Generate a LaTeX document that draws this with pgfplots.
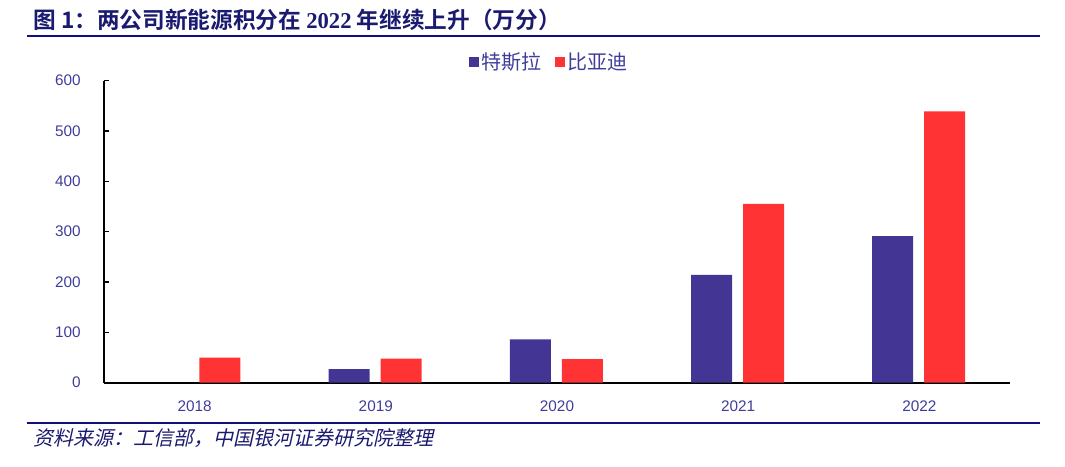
\documentclass[border=0pt]{standalone}
\usepackage{fontspec}
\setmainfont{Liberation Sans}
\newfontfamily\cjk{Noto Sans CJK SC}
\newfontfamily\cjkb{Noto Sans CJK SC Bold}
\newfontfamily\cjkit[FakeSlant=0.22]{Noto Sans CJK SC}
\newfontfamily\serifb{Liberation Serif}
\usepackage{pgfplots}
\pgfplotsset{compat=1.18}
\definecolor{tesla}{HTML}{433594}
\definecolor{byd}{HTML}{FF3333}
\definecolor{navy}{HTML}{1A1A70}
\definecolor{tickc}{HTML}{3F3D99}
\definecolor{linec}{HTML}{10107A}
\begin{document}
\begin{tikzpicture}[x=0.75pt,y=-0.75pt]
\path[use as bounding box] (0,0) rectangle (1065,467);
% title
\node[anchor=west,inner sep=0,text=navy,font=\cjkb\fontsize{17}{17}\selectfont] at (33,20) {图 1：两公司新能源积分在 {\serifb\bfseries 2022} 年继续上升（万分）};
\draw[linec,line width=1.1pt] (27,36) -- (1040,36);
\draw[linec,line width=1.1pt] (27,423) -- (1040,423);
\node[anchor=west,inner sep=0,text=navy,font=\cjkit\fontsize{15}{15}\selectfont] at (33,438) {资料来源：工信部，中国银河证券研究院整理};
\begin{axis}[
  at={(78pt,-287pt)}, anchor=south west,
  scale only axis, width=679.5pt, height=226.5pt,
  xmin=-0.5, xmax=4.5, ymin=0, ymax=600,
  axis x line*=bottom, axis y line*=left,
  axis line style={black, line width=1.5pt},
  /pgf/number format/assume math mode=true,
  xtick={0,1,2,3,4},
  xticklabels={2018,2019,2020,2021,2022},
  x tick style={draw=none},
  extra x ticks={0.5,1.5,2.5,3.5,4.5},
  extra x tick labels={},
  extra x tick style={major tick length=4pt, tick style={draw=black,line width=1.2pt}, tick align=inside},
  ytick={0,100,...,600},
  y tick style={black, line width=1.2pt},
  major tick length=4pt, tick align=inside,
  tick label style={font=\fontsize{11.5}{11.5}\selectfont, text=tickc},
  yticklabel style={xshift=-14pt},
  xticklabel style={yshift=-6pt},
  ybar, bar width=30.75pt,
  legend style={at={(0.492,1.062)}, anchor=center, draw=none, fill=none,
    legend columns=2, font=\cjk\fontsize{15}{15}\selectfont, text=tickc,
    /tikz/every even column/.append style={column sep=8pt},
    inner sep=0pt},
  legend image code/.code={\fill (0pt,-3.75pt) rectangle (7.5pt,3.75pt);},
]
\addplot[fill=tesla, draw=none, bar shift=-20pt] coordinates {(1,27) (2,86) (3,214) (4,291)};
\addplot[fill=byd, draw=none, bar shift=19pt] coordinates {(0,50) (1,48) (2,47) (3,355) (4,539)};
\legend{特斯拉,比亚迪}
\end{axis}
\end{tikzpicture}
\end{document}
